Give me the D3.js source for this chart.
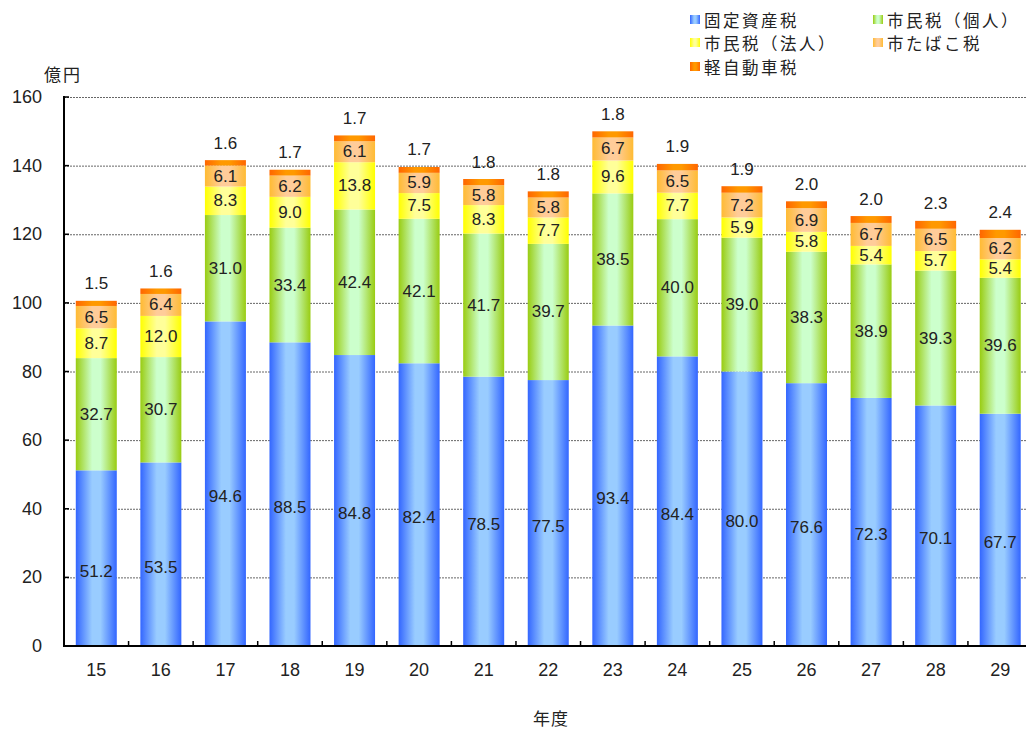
<!DOCTYPE html>
<html><head><meta charset="utf-8">
<script src="https://cdn.jsdelivr.net/npm/d3@7"></script>
<style>
body{margin:0;background:#fff;}
text{font-family:"Noto Sans CJK JP","Noto Sans",sans-serif;fill:#222;}
text.num{font-family:"Liberation Sans",Arial,sans-serif;}
</style></head>
<body><svg id="c" width="1026" height="731"></svg>
<script>
const years = ["15","16","17","18","19","20","21","22","23","24","25","26","27","28","29"];
const seriesNames = ["固定資産税","市民税（個人）","市民税（法人）","市たばこ税","軽自動車税"];
const kotei   = [51.2,53.5,94.6,88.5,84.8,82.4,78.5,77.5,93.4,84.4,80.0,76.6,72.3,70.1,67.7];
const kojin   = [32.7,30.7,31.0,33.4,42.4,42.1,41.7,39.7,38.5,40.0,39.0,38.3,38.9,39.3,39.6];
const hojin   = [8.7,12.0,8.3,9.0,13.8,7.5,8.3,7.7,9.6,7.7,5.9,5.8,5.4,5.7,5.4];
const tabako  = [6.5,6.4,6.1,6.2,6.1,5.9,5.8,5.8,6.7,6.5,7.2,6.9,6.7,6.5,6.2];
const keiji   = [1.5,1.6,1.6,1.7,1.7,1.7,1.8,1.8,1.8,1.9,1.9,2.0,2.0,2.3,2.4];
const yTicks = [0,20,40,60,80,100,120,140,160];
const seriesValues = [kotei,kojin,hojin,tabako,keiji];
const colors = [["#3366ff","#99ccff"],["#99cc11","#ccffcc"],["#ffff00","#ffff99"],["#ffbb33","#ffcc99"],["#ff6600","#ff9900"]];

const svg = d3.select("#c");
const L=64, R=1032.5, T=97, B=646;
const x = d3.scaleBand().domain(years).range([L,R]).paddingInner(0.365).paddingOuter(0.1825);
const y = d3.scaleLinear().domain([0,160]).range([B,T]);

const defs = svg.append("defs");
colors.forEach((c,i)=>{
  const g = defs.append("linearGradient").attr("id","g"+i).attr("x1","0").attr("x2","1").attr("y1","0").attr("y2","0");
  g.append("stop").attr("offset","0").attr("stop-color",c[0]);
  g.append("stop").attr("offset","0.4").attr("stop-color",c[1]);
  g.append("stop").attr("offset","0.6").attr("stop-color",c[1]);
  g.append("stop").attr("offset","1").attr("stop-color",c[0]);
});

// grid
svg.append("g").selectAll("line").data(yTicks.filter(d=>d>0)).join("line")
  .attr("x1",L).attr("x2",R).attr("y1",d=>y(d)+0.5).attr("y2",d=>y(d)+0.5)
  .attr("stroke","#666").attr("stroke-width",1).attr("stroke-dasharray","2,1");

// stacked data
const rows = years.map((yr,i)=>{const o={year:yr}; seriesNames.forEach((s,k)=>o[s]=seriesValues[k][i]); return o;});
const stack = d3.stack().keys(seriesNames)(rows);

const gBars = svg.append("g");
stack.forEach((layer,k)=>{
  gBars.selectAll(null).data(layer).join("rect")
    .attr("x",d=>x(d.data.year)).attr("width",x.bandwidth())
    .attr("y",d=>y(d[1])).attr("height",d=>y(d[0])-y(d[1]))
    .attr("fill","url(#g"+k+")");
});

// labels
stack.forEach((layer,k)=>{
  gBars.selectAll(null).data(layer).join("text").attr("class","num")
    .attr("x",d=>x(d.data.year)+x.bandwidth()/2)
    .attr("y",d=>{
      if(k===4) return y(d[1])-17;
      if(k===0) return y((d[0]+d[1])/2)+13;
      return y((d[0]+d[1])/2);
    })
    .attr("text-anchor","middle").attr("dominant-baseline","central")
    .attr("font-size",17)
    .text(d=>(d[1]-d[0]).toFixed(1));
});

// axes
const yAxis = svg.append("g");
yAxis.append("line").attr("x1",L).attr("x2",L).attr("y1",T-1).attr("y2",B+1).attr("stroke","#000").attr("stroke-width",2);
yAxis.selectAll("line.t").data(yTicks).join("line").attr("class","t")
  .attr("x1",L).attr("x2",L+5).attr("y1",d=>y(d)).attr("y2",d=>y(d)).attr("stroke","#000").attr("stroke-width",1.5);
yAxis.selectAll("text").data(yTicks).join("text").attr("class","num")
  .attr("x",42).attr("y",d=>y(d)).attr("text-anchor","end").attr("dominant-baseline","central")
  .attr("font-size",18).text(d=>d);

const xAxis = svg.append("g");
xAxis.append("line").attr("x1",L-1).attr("x2",R).attr("y1",B).attr("y2",B).attr("stroke","#000").attr("stroke-width",2);
const step = x.step();
xAxis.selectAll("line.t").data(d3.range(1,years.length+1)).join("line").attr("class","t")
  .attr("x1",i=>L+i*step).attr("x2",i=>L+i*step).attr("y1",B).attr("y2",B-5).attr("stroke","#000").attr("stroke-width",1.5);
xAxis.selectAll("text").data(years).join("text").attr("class","num")
  .attr("x",d=>x(d)+x.bandwidth()/2).attr("y",670).attr("text-anchor","middle").attr("dominant-baseline","central")
  .attr("font-size",18).text(d=>d);

svg.append("text").attr("x",551).attr("y",717).attr("text-anchor","middle").attr("dominant-baseline","central").attr("font-size",17).attr("letter-spacing",1).text("年度");
svg.append("text").attr("x",63).attr("y",73).attr("text-anchor","middle").attr("dominant-baseline","central").attr("font-size",17).attr("letter-spacing",2).text("億円");

// legend
const legPos = [[690,20],[873,20],[690,43],[873,43],[690,67]];
const leg = svg.append("g");
seriesNames.forEach((s,k)=>{
  leg.append("rect").attr("x",legPos[k][0]).attr("y",legPos[k][1]-5).attr("width",10).attr("height",9).attr("fill","url(#g"+k+")");
  leg.append("text").attr("x",legPos[k][0]+14).attr("y",legPos[k][1]).attr("dominant-baseline","central").attr("font-size",16.5).attr("letter-spacing",2.5).text(s);
});
</script></body></html>
